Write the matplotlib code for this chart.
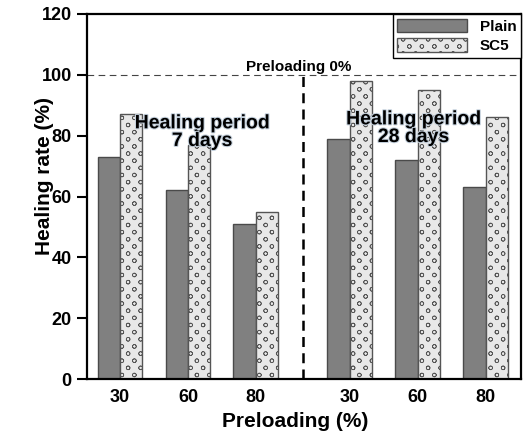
import matplotlib
matplotlib.use("Agg")
import matplotlib.pyplot as plt
import matplotlib.patheffects as pe
import matplotlib.hatch as mhatch
from matplotlib.path import Path
import numpy as np

plt.rcParams['font.family'] = ['Liberation Sans', 'DejaVu Sans']
plt.rcParams['font.weight'] = 'bold'
plt.rcParams['hatch.linewidth'] = 0.5

tick_labels = ["30", "60", "80", "30", "60", "80"]
positions = [0, 1, 2, 3.38, 4.38, 5.38]
plain = [73, 62, 51, 79, 72, 63]
sc5 = [87, 77, 55, 98, 95, 86]
series_names = ["Plain", "SC5"]
period_labels = ["Healing period\n7 days", "Healing period\n28 days"]
reference_level = 100


class StaggeredRings:
    """Hollow circles, staggered rows, wider column than row spacing ('O')."""
    rows = 14
    cols = 8
    radius = 0.019

    def __init__(self, hatch, density):
        self.n = hatch.count('O')
        circ = Path.unit_circle()
        v = circ.vertices * self.radius
        self.shape_vertices = np.concatenate([v, v[::-1] * 0.92])
        self.shape_codes = np.concatenate([circ.codes, circ.codes])
        self.num_vertices = (self.rows * self.cols * len(self.shape_vertices)
                             if self.n else 0)

    def set_vertices_and_codes(self, vertices, codes):
        vp, cp = [], []
        for r in range(self.rows):
            y = (r + 0.5) / self.rows
            for c in range(self.cols):
                xpos = (c + 0.25 + 0.5 * (r % 2)) / self.cols
                vp.append(self.shape_vertices + [xpos, y])
                cp.append(self.shape_codes)
        np.concatenate(vp, out=vertices)
        np.concatenate(cp, out=codes)


mhatch._hatch_types = [t for t in mhatch._hatch_types
                       if t is not mhatch.LargeCircles] + [StaggeredRings]

fig = plt.figure(figsize=(5.25, 4.33), dpi=100)
ax = fig.add_axes([87/525, 54/433, 434/525, 365/433])

w = 0.33
x = np.array(positions)
ax.bar(x - w/2, plain, width=w, color='#808080', edgecolor='#4a4a4a',
       linewidth=1.0, label=series_names[0])
ax.bar(x + w/2, sc5, width=w, color='#e8e8e8', edgecolor='#555555',
       linewidth=1.0, hatch='O', label=series_names[1])

ax.set_xlim(-0.485, 5.9)
ax.set_ylim(0, 120)
ax.set_yticks(np.arange(0, 121, 20))
ax.set_xticks(positions)
ax.set_xticklabels(tick_labels)

ax.axhline(reference_level, color='#444444', lw=0.8, ls=(0, (6, 4)))
sep = (positions[2] + positions[3]) / 2
ax.plot([sep, sep], [0, reference_level], color='black', lw=1.8, ls=(0, (4, 2.5)))

glow = [pe.withStroke(linewidth=1.5, foreground='#c4d0dc')]
ax.text(1.21, 81, period_labels[0], ha='center', va='center', fontsize=14,
        fontweight='bold', linespacing=1.05, path_effects=glow)
ax.text(4.32, 82.3, period_labels[1], ha='center', va='center', fontsize=14,
        fontweight='bold', linespacing=1.05, path_effects=glow)
ax.text(2.63, 102.5, "Preloading 0%", ha='center', va='center', fontsize=11,
        fontweight='bold')

for s in ax.spines.values():
    s.set_linewidth(1.6)
ax.tick_params(axis='y', direction='out', length=7, width=1.5, labelsize=13, pad=4)
ax.tick_params(axis='x', length=0, labelsize=13, pad=7)
for lab in ax.get_xticklabels() + ax.get_yticklabels():
    lab.set_fontweight('bold')

ax.set_ylabel("Healing rate (%)", fontsize=15, fontweight='bold')
ax.yaxis.set_label_coords(-0.077, 0.556)
ax.set_xlabel("Preloading (%)", fontsize=15, fontweight='bold')
ax.xaxis.set_label_coords(0.48, -0.09)

leg = ax.legend(loc='upper right', borderaxespad=0, fontsize=11, frameon=True,
                fancybox=False, edgecolor='black', handlelength=4.6,
                handleheight=1.0, labelspacing=0.3, borderpad=0.3,
                handletextpad=0.8)
leg.get_frame().set_linewidth(1.0)
leg.get_frame().set_alpha(1)

fig.savefig("out.png", dpi=100)
